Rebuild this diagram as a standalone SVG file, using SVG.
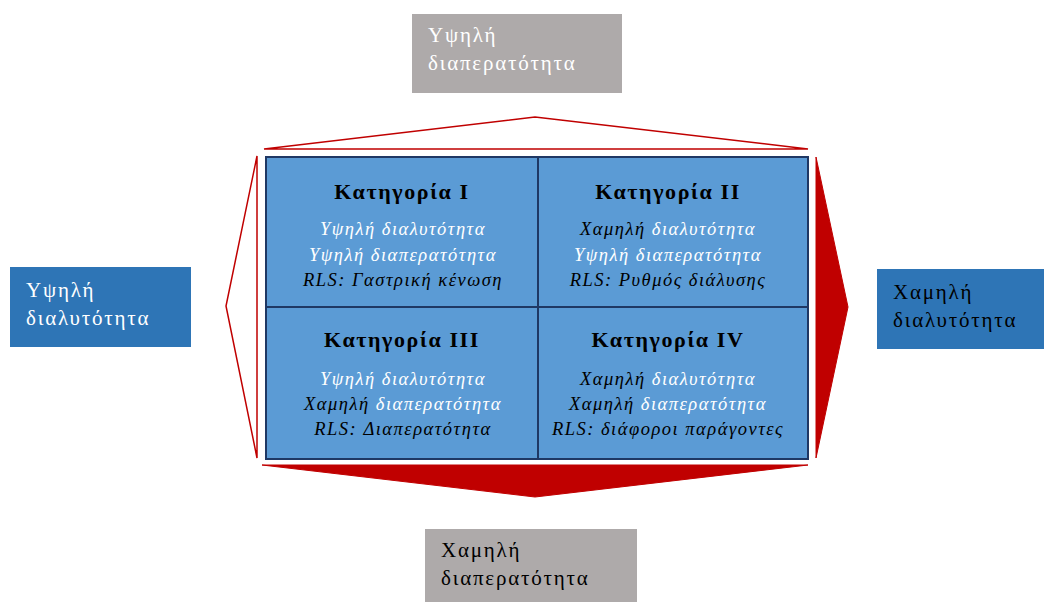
<svg xmlns="http://www.w3.org/2000/svg" width="1044" height="602" viewBox="0 0 1044 602">
<style>
.gray{fill:#AEAAAA}
.blue{fill:#2E75B6}
.lbl{font-family:"Liberation Serif","DejaVu Serif",serif;font-size:21px;letter-spacing:1.8px}
.w{fill:#FFFFFF}
.k{fill:#000000}
.quad{fill:#5B9BD5;stroke:#1F3864;stroke-width:2}
.ttl{font-family:"Liberation Serif","DejaVu Serif",serif;font-size:22px;font-weight:bold;fill:#000;text-anchor:middle;letter-spacing:1.6px}
.ln{font-family:"Liberation Serif","DejaVu Serif",serif;font-size:18.5px;font-style:italic;text-anchor:middle;letter-spacing:1.5px}
.out{fill:#FFFFFF;stroke:#C00000;stroke-width:1.5}
.full{fill:#C00000;stroke:#C00000;stroke-width:1}
</style>
<g id="connectors">
<polygon class="out" points="264,149 535,117 808,149"/>
<polygon class="out" points="257,156 226,306 257,458"/>
<polygon class="full" points="816,157 848,307 816,458"/>
<polygon class="full" points="262,465 535,497 808,465"/>
</g>
<g id="node-top">
<rect class="gray" x="412" y="14" width="210" height="79"/>
<text class="lbl w" x="428" y="42">Υψηλή</text>
<text class="lbl w" x="428" y="70">διαπερατότητα</text>
</g>
<g id="node-left">
<rect class="blue" x="10" y="267" width="181" height="80"/>
<text class="lbl w" x="26" y="297">Υψηλή</text>
<text class="lbl w" x="26" y="325">διαλυτότητα</text>
</g>
<g id="node-right">
<rect class="blue" x="877" y="269" width="167" height="80"/>
<text class="lbl k" x="893" y="299">Χαμηλή</text>
<text class="lbl k" x="893" y="327">διαλυτότητα</text>
</g>
<g id="node-bottom">
<rect class="gray" x="425" y="529" width="212" height="73"/>
<text class="lbl k" x="441" y="557">Χαμηλή</text>
<text class="lbl k" x="441" y="585">διαπερατότητα</text>
</g>
<g id="node-cat1">
<rect class="quad" x="266" y="157" width="272" height="150"/>
<text class="ttl" x="402" y="199">Κατηγορία I</text>
<text class="ln" x="403" y="235"><tspan class="w">Υψηλή διαλυτότητα</tspan></text>
<text class="ln" x="403" y="261"><tspan class="w">Υψηλή διαπερατότητα</tspan></text>
<text class="ln k" x="403" y="286">RLS: Γαστρική κένωση</text>
</g>
<g id="node-cat2">
<rect class="quad" x="538" y="157" width="270" height="150"/>
<text class="ttl" x="668" y="199">Κατηγορία II</text>
<text class="ln" x="668" y="235"><tspan class="k">Χαμηλή</tspan> <tspan class="w">διαλυτότητα</tspan></text>
<text class="ln" x="668" y="261"><tspan class="w">Υψηλή διαπερατότητα</tspan></text>
<text class="ln k" x="668" y="286">RLS: Ρυθμός διάλυσης</text>
</g>
<g id="node-cat3">
<rect class="quad" x="266" y="307" width="272" height="152"/>
<text class="ttl" x="402" y="347">Κατηγορία III</text>
<text class="ln" x="403" y="385"><tspan class="w">Υψηλή διαλυτότητα</tspan></text>
<text class="ln" x="403" y="410"><tspan class="k">Χαμηλή</tspan> <tspan class="w">διαπερατότητα</tspan></text>
<text class="ln k" x="403" y="435">RLS: Διαπερατότητα</text>
</g>
<g id="node-cat4">
<rect class="quad" x="538" y="307" width="270" height="152"/>
<text class="ttl" x="668" y="347">Κατηγορία IV</text>
<text class="ln" x="668" y="385"><tspan class="k">Χαμηλή</tspan> <tspan class="w">διαλυτότητα</tspan></text>
<text class="ln" x="668" y="410"><tspan class="k">Χαμηλή</tspan> <tspan class="w">διαπερατότητα</tspan></text>
<text class="ln k" x="668" y="435">RLS: διάφοροι παράγοντες</text>
</g>
</svg>
